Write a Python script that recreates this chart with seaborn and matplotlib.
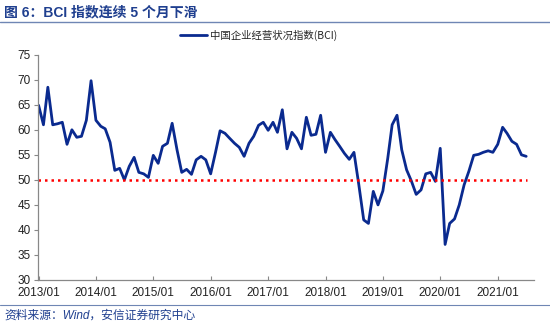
import matplotlib
matplotlib.use("Agg")
import matplotlib.pyplot as plt
import matplotlib.dates as mdates
from matplotlib.lines import Line2D
import seaborn as sns
import pandas as pd

# China Business Conditions Index (BCI), monthly from 2013/01 to 2021/07
start_month = "2013-01-01"
bci_values = [
    64.9, 61.0, 68.5, 61.0, 61.2, 61.5, 57.1, 60.0, 58.5, 58.7, 61.9, 69.8,
    61.9, 60.7, 60.2, 57.5, 51.9, 52.3, 50.0, 52.7, 54.5, 51.5, 51.2, 50.5,
    54.9, 53.3, 56.7, 57.3, 61.3, 56.0, 51.5, 52.1, 51.1, 54.0, 54.7, 54.0,
    51.2, 55.5, 59.8, 59.3, 58.3, 57.3, 56.5, 54.7, 57.3, 58.7, 60.9, 61.5,
    59.9, 61.5, 59.5, 64.0, 56.2, 59.5, 58.3, 56.2, 62.5, 58.9, 59.1, 62.9,
    55.5, 59.5, 58.1, 56.7, 55.3, 54.1, 55.5, 49.0, 42.0, 41.3, 47.7, 45.0,
    47.8, 54.3, 61.0, 62.9, 56.0, 52.0, 49.8, 47.1, 48.0, 51.2, 51.5, 49.7,
    56.3, 37.1, 41.3, 42.2, 45.0, 49.0, 51.7, 54.9, 55.1, 55.5, 55.8, 55.5,
    57.1, 60.5, 59.3, 57.7, 57.1, 55.0, 54.7,
]
threshold = 50
y_ticks = [30, 35, 40, 45, 50, 55, 60, 65, 70, 75]
x_tick_years = list(range(2013, 2022))

series_name = "中国企业经营状况指数(BCI)"
title_text = "图 6：BCI 指数连续 5 个月下滑"
source_text = "资料来源：Wind，安信证券研究中心"

df = pd.DataFrame({
    "month": pd.date_range(start_month, periods=len(bci_values), freq="MS"),
    "BCI": bci_values,
})

sns.set_theme(style="white")
plt.rcParams["font.family"] = ["Liberation Sans", "Noto Sans CJK SC", "DejaVu Sans"]

line_color = "#0A2A8F"
title_color = "#1F3F8F"
rule_color = "#6F86B4"

fig = plt.figure(figsize=(5.5, 3.25), dpi=100)
ax = fig.add_axes([0.069, 0.1385, 0.902, 0.6932])

sns.lineplot(data=df, x="month", y="BCI", ax=ax, color=line_color,
             linewidth=2.0, legend=False)
ax.axhline(threshold, color="#FF0000", linestyle=(0, (1, 1.6)), linewidth=1.8,
           xmin=0, xmax=0.985)

ax.set_ylim(30, 75)
ax.set_yticks(y_ticks)
ax.set_xlim(pd.Timestamp("2012-12-28"), pd.Timestamp("2021-08-20"))
ax.set_xticks([pd.Timestamp(f"{y}-01-01") for y in x_tick_years])
ax.xaxis.set_major_formatter(mdates.DateFormatter("%Y/%m"))
ax.set_xlabel("")
ax.set_ylabel("")

for side in ("top", "right"):
    ax.spines[side].set_visible(False)
for side in ("left", "bottom"):
    ax.spines[side].set_color("#888888")
    ax.spines[side].set_linewidth(0.9)

ax.tick_params(axis="y", direction="out", length=3, width=0.8, color="#888888",
               labelsize=8.5, labelcolor="#222222", pad=2, left=True)
ax.tick_params(axis="x", direction="in", length=3, width=0.8, color="#888888",
               labelsize=8.5, labelcolor="#222222", pad=5, bottom=True)

handle = Line2D([0], [0], color=line_color, linewidth=2.0)
fig.legend([handle], [series_name], loc="center", bbox_to_anchor=(0.47, 0.892),
           frameon=False, fontsize=7.5, handlelength=2.6, handletextpad=0.3,
           prop={"family": ["Noto Sans CJK SC", "DejaVu Sans"], "size": 7.5})

fig.text(0.008, 0.962, title_text, ha="left", va="center", fontsize=10,
         fontweight="bold", color=title_color,
         family=["Liberation Sans", "Noto Sans CJK SC", "DejaVu Sans"])
fig.add_artist(Line2D([0, 1], [0.932, 0.932], transform=fig.transFigure,
                      color=rule_color, linewidth=1.0))
fig.add_artist(Line2D([0, 1], [0.063, 0.063], transform=fig.transFigure,
                      color=rule_color, linewidth=0.8))
fig.text(0.008, 0.028, source_text, ha="left", va="center", fontsize=8.5,
         style="italic", color=title_color,
         family=["Liberation Sans", "Noto Sans CJK SC", "DejaVu Sans"])

fig.savefig("out.png", dpi=100, facecolor="white")
